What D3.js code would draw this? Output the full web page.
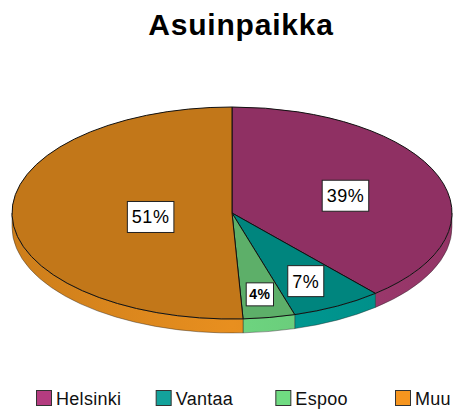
<!DOCTYPE html>
<html>
<head>
<meta charset="utf-8">
<script src="https://cdn.jsdelivr.net/npm/d3@7"></script>
<style>
  body { margin: 0; background: #fff; }
  svg { display: block; font-family: "Liberation Sans", Arial, sans-serif; }
</style>
</head>
<body>
<svg id="vis-container"></svg>
<script>
const WIDTH = 454
const HEIGHT = 410
const CONTAINER = d3.select("#vis-container")

// data
const categories = ["Helsinki", "Vantaa", "Espoo", "Muu"]
const values = [38.7, 6.7, 3.8, 50.8]
const labels = ["39%", "7%", "4%", "51%"]

// colours
const topColors = ["#8f3063", "#00857e", "#5daf69", "#c27719"]
const sideColors = ["#a63c74", "#009c95", "#6ed580", "#e88f1f"]
const legendColors = ["#b43c80", "#13a29b", "#70db82", "#f6951f"]

// geometry of the tilted pie
const CX = 232, CY = 213, RX = 220, RY = 106, DEPTH = 14
const labelFrac = [0.55, 0.7, 0.75, 0.37]

CONTAINER.attr('width', WIDTH).attr('height', HEIGHT)

CONTAINER.append('text')
    .attr('x', 241)
    .attr('y', 35)
    .attr('text-anchor', 'middle')
    .style('font-size', '30px')
    .style('font-weight', 'bold')
    .style('letter-spacing', '0.8px')
    .text('Asuinpaikka')

const pie = d3.pie().sort(null).value(d => d)
const arcs = pie(values)

function pt(a, dy) {
    return [CX + RX * Math.sin(a), CY - RY * Math.cos(a) + (dy || 0)]
}

// side gradients, lighter toward the front
const defs = CONTAINER.append('defs')
categories.forEach((c, i) => {
    const g = defs.append('linearGradient')
        .attr('id', 'side' + i)
        .attr('gradientUnits', 'userSpaceOnUse')
        .attr('x1', CX - RX).attr('x2', CX + RX)
        .attr('y1', 0).attr('y2', 0)
    g.append('stop').attr('offset', 0).attr('stop-color', d3.color(sideColors[i]).darker(0.35))
    g.append('stop').attr('offset', 0.5).attr('stop-color', sideColors[i])
    g.append('stop').attr('offset', 1).attr('stop-color', d3.color(sideColors[i]).darker(0.35))
})

// sides: only the front half (pi/2 .. 3pi/2) is visible
const sides = CONTAINER.append('g').attr('id', 'sides')
arcs.forEach((d, i) => {
    const a0 = Math.max(d.startAngle, Math.PI / 2)
    const a1 = Math.min(d.endAngle, 3 * Math.PI / 2)
    if (a1 <= a0) return
    const p0 = pt(a0), p1 = pt(a1)
    const q0 = pt(a0, DEPTH), q1 = pt(a1, DEPTH)
    const path = `M${p0}A${RX},${RY} 0 0 1 ${p1}L${q1}A${RX},${RY} 0 0 0 ${q0}Z`
    sides.append('path')
        .attr('d', path)
        .attr('fill', `url(#side${i})`)
        .attr('stroke', '#222')
        .attr('stroke-width', 0.6)
        .attr('stroke-opacity', 0.7)
})

// top faces
const arc = d3.arc().innerRadius(0).outerRadius(RX)
CONTAINER.append('g')
    .attr('transform', `translate(${CX},${CY}) scale(1,${RY / RX})`)
    .selectAll('path')
    .data(arcs)
    .join('path')
    .attr('d', arc)
    .attr('fill', (d, i) => topColors[i])
    .attr('stroke', '#111')
    .attr('stroke-width', 1)
    .attr('vector-effect', 'non-scaling-stroke')

// labels
const labelG = CONTAINER.append('g').attr('id', 'labels')
arcs.forEach((d, i) => {
    const mid = (d.startAngle + d.endAngle) / 2
    const x = CX + RX * labelFrac[i] * Math.sin(mid)
    const y = CY - RY * labelFrac[i] * Math.cos(mid) + 3
    const small = values[i] < 5
    const fs = small ? 14 : 18
    const g = labelG.append('g').attr('transform', `translate(${x},${y})`)
    const t = g.append('text')
        .attr('text-anchor', 'middle')
        .attr('dy', '0.36em')
        .style('font-size', fs + 'px')
        .style('font-weight', small ? 'bold' : 'normal')
        .style('letter-spacing', '0.5px')
        .text(labels[i])
    const bb = t.node().getBBox()
    const padX = small ? 3 : 4.5, h = small ? 23 : 31
    g.insert('rect', 'text')
        .attr('x', -bb.width / 2 - padX)
        .attr('y', -h / 2)
        .attr('width', bb.width + 2 * padX)
        .attr('height', h)
        .attr('fill', '#fff')
        .attr('stroke', '#222')
        .attr('stroke-width', 1)
})

// legend
const legendX = d3.scalePoint().domain(categories).range([36, 395])
const legend = CONTAINER.append('g').attr('id', 'legend')
    .selectAll('g')
    .data(categories)
    .join('g')
    .attr('transform', d => `translate(${legendX(d)},390)`)
legend.append('rect')
    .attr('x', 0.5).attr('y', 0.5)
    .attr('width', 15).attr('height', 15)
    .attr('fill', (d, i) => legendColors[i])
    .attr('stroke', '#333')
    .attr('stroke-width', 1)
legend.append('text')
    .attr('x', 20)
    .attr('y', 14.5)
    .style('font-size', '18px')
    .style('letter-spacing', '0.3px')
    .attr('fill', '#111')
    .text(d => d)
</script>
</body>
</html>
